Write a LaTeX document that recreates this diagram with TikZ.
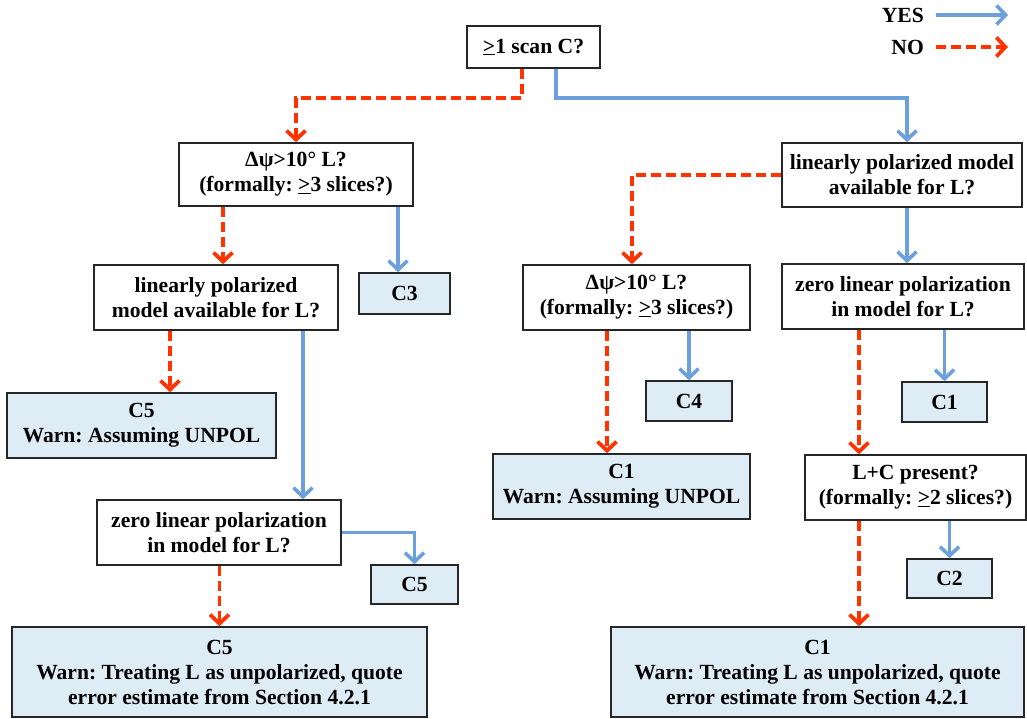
\documentclass[tikz,border=0pt]{standalone}
\usepackage{fontspec}
\setmainfont{Liberation Serif}
\usetikzlibrary{arrows.meta, calc}
\definecolor{yesblue}{RGB}{108,160,220}
\definecolor{nored}{RGB}{255,51,0}
\definecolor{paleblue}{RGB}{222,236,246}
\tikzstyle{question} = [rectangle, draw=black!85, line width=1.6pt, fill=white, align=center, inner sep=2pt]
\tikzstyle{outcome} = [rectangle, draw=black!85, line width=1.6pt, fill=paleblue, align=center, inner sep=2pt]
\tikzstyle{yesarrow} = [yesblue, line width=3.6pt, -{Straight Barb[length=9pt, width=19pt]}]
\tikzstyle{noarrow} = [nored, line width=3.8pt, dash pattern=on 10pt off 5pt, -{Straight Barb[length=9pt, width=19pt]}]
\frenchspacing

\begin{document}
\begin{tikzpicture}[x=1pt, y=-1pt, every node/.style={font=\bfseries\fontsize{21.6}{25}\selectfont}]
\useasboundingbox (0,0) rectangle (1027,719);

% Legend
\node (yes) [anchor=east, inner sep=0pt] at (924,15) {YES};
\node (no) [anchor=east, inner sep=0pt] at (924,47) {NO};
\coordinate (yesend) at (1008,15);
\coordinate (noend) at (1008,47);
\draw [yesarrow] ([xshift=12pt]yes.east) -- (yesend);
\draw [noarrow] ([xshift=12pt]no.east |- noend) -- (noend);

% Questions
\node (scan) [question, minimum width=133pt, minimum height=42pt] at (533.5,47) {\underline{>}1 scan C?};
\node (dpsiL) [question, minimum width=234pt, minimum height=63pt] at (296,174.5) {Δψ>10° L?\\(formally: \underline{>}3 slices?)};
\node (linR) [question, minimum width=240pt, minimum height=64pt] at (902,175) {linearly polarized model\\available for L?};
\node (linL) [question, minimum width=244pt, minimum height=65pt] at (216,297.5) {linearly polarized\\model available for L?};
\node (dpsiR) [question, minimum width=227pt, minimum height=65pt] at (636.5,297.5) {Δψ>10° L?\\(formally: \underline{>}3 slices?)};
\node (zeroR) [question, minimum width=242pt, minimum height=65pt] at (903,296.5) {zero linear polarization\\in model for L?};
\node (lplusc) [question, minimum width=221pt, minimum height=65pt] at (915.5,487.5) {L+C present?\\(formally: \underline{>}2 slices?)};
\node (zeroL) [question, minimum width=244pt, minimum height=65pt] at (219,532.5) {zero linear polarization\\in model for L?};

% Outcomes
\node (cthree) [outcome, minimum width=91pt, minimum height=41pt] at (404.5,293.5) {C3};
\node (cfiveW) [outcome, minimum width=269pt, minimum height=65pt] at (141.5,425.5) {C5\\Warn: Assuming UNPOL};
\node (cfour) [outcome, minimum width=86pt, minimum height=40pt] at (689,401) {C4};
\node (coneS) [outcome, minimum width=85pt, minimum height=40pt] at (944.5,402) {C1};
\node (coneW) [outcome, minimum width=257pt, minimum height=65pt] at (621.5,486.5) {C1\\Warn: Assuming UNPOL};
\node (cfiveS) [outcome, minimum width=87pt, minimum height=39pt] at (414.5,584.5) {C5};
\node (ctwo) [outcome, minimum width=85pt, minimum height=39pt] at (949.5,578.5) {C2};
\node (cfiveT) [outcome, minimum width=415pt, minimum height=90pt] at (219.5,672) {C5\\Warn: Treating L as unpolarized, quote\\error estimate from Section 4.2.1};
\node (coneT) [outcome, minimum width=413pt, minimum height=90pt] at (817.5,672) {C1\\Warn: Treating L as unpolarized, quote\\error estimate from Section 4.2.1};

% Arrows
\coordinate (split) at (0,98);
\draw [noarrow] ([xshift=-11.5pt]scan.south) -- ([xshift=-11.5pt]scan.south |- split) -| (dpsiL.north);
\draw [yesarrow] ([xshift=22.5pt]scan.south) -- ([xshift=22.5pt]scan.south |- split) -| ([xshift=5pt]linR.north);

\draw [noarrow] ([xshift=7pt]linL.north |- dpsiL.south) -- ([xshift=7pt]linL.north);
\draw [yesarrow] ([xshift=-6.5pt]cthree.north |- dpsiL.south) -- ([xshift=-6.5pt]cthree.north);
\draw [noarrow] ([xshift=28.5pt]cfiveW.north |- linL.south) -- ([xshift=28.5pt]cfiveW.north);
\draw [yesarrow] ([xshift=84pt]zeroL.north |- linL.south) -- ([xshift=84pt]zeroL.north);
\draw [yesarrow] (zeroL.east) -| (cfiveS.north);
\draw [noarrow] (cfiveT.north |- zeroL.south) -- (cfiveT.north);

\draw [noarrow] (linR.west) -| ([xshift=-4.5pt]dpsiR.north);
\draw [yesarrow] ([xshift=4pt]zeroR.north |- linR.south) -- ([xshift=4pt]zeroR.north);
\draw [noarrow] ([xshift=-14.5pt]coneW.north |- dpsiR.south) -- ([xshift=-14.5pt]coneW.north);
\draw [yesarrow] (cfour.north |- dpsiR.south) -- (cfour.north);
\draw [noarrow] ([xshift=-56.5pt]lplusc.north |- zeroR.south) -- ([xshift=-56.5pt]lplusc.north);
\draw [yesarrow] (coneS.north |- zeroR.south) -- (coneS.north);
\draw [noarrow] ([xshift=41.5pt]coneT.north |- lplusc.south) -- ([xshift=41.5pt]coneT.north);
\draw [yesarrow] (ctwo.north |- lplusc.south) -- (ctwo.north);

\end{tikzpicture}
\end{document}
